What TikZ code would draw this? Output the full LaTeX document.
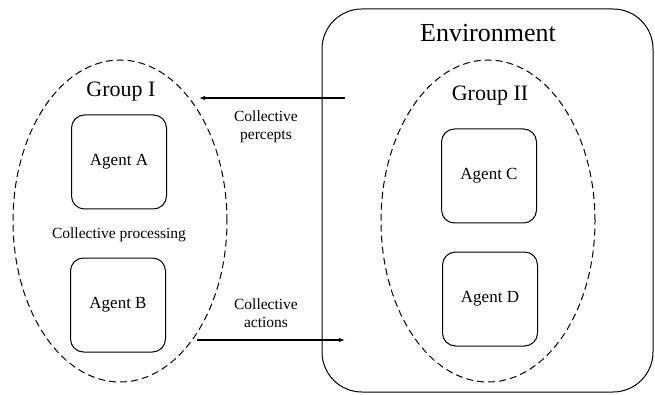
\documentclass[tikz,border=0pt]{standalone}
\usepackage{fontspec}
\setmainfont{Liberation Serif}
\usetikzlibrary{arrows.meta,shapes,positioning}

\begin{document}
\begin{tikzpicture}[x=1pt, y=-1pt,
    agent/.style={draw, rounded corners=13pt, minimum width=95pt, minimum height=94pt, line width=1pt, font=\fontsize{17}{20}\selectfont},
    group/.style={draw, ellipse, dash pattern=on 7pt off 4pt, line width=1pt, minimum width=214pt, minimum height=322pt, inner sep=0pt},
    lbl/.style={font=\fontsize{15.5}{18}\selectfont, align=center},
    flow/.style={-{Latex[length=6pt,width=4.5pt]}, line width=1.1pt}]
            \useasboundingbox (0,0) rectangle (655,395);

            % Environment
            \node[draw, line width=1pt, rounded corners=40pt, minimum width=331pt, minimum height=383pt] (env) at (487.5,200.5) {};
            \node[anchor=base, font=\fontsize{26}{30}\selectfont] (envlabel) at (488,42) {Environment};

            % Group I
            \node[group] (grp1) at (120,221) {};
            \node[anchor=base, font=\fontsize{22}{26}\selectfont] (grp1label) at (121,97) {Group I};
            \node[agent] (agA) at (119,162) {Agent A};
            \node[agent] (agB) at (118,305) {Agent B};
            \node[lbl, anchor=base] (proc) at (119,238) {Collective processing};

            % Group II
            \node[group] (grp2) at (488,221) {};
            \node[anchor=base, font=\fontsize{22}{26}\selectfont] (grp2label) at (490,101) {Group II};
            \node[agent] (agC) at (489,176) {Agent C};
            \node[agent] (agD) at (490,299) {Agent D};

            % Percepts
            \coordinate (percfrom) at (345,98);
            \coordinate (percto) at (199,98);
            \draw[flow] (percfrom) -- (percto);
            \node[lbl] (perc) at (266,127) {Collective\\percepts};

            % Actions
            \coordinate (actfrom) at (197,340);
            \coordinate (actto) at (345,340);
            \draw[flow] (actfrom) -- (actto);
            \node[lbl] (act) at (266,313) {Collective\\actions};
        \end{tikzpicture}
\end{document}
